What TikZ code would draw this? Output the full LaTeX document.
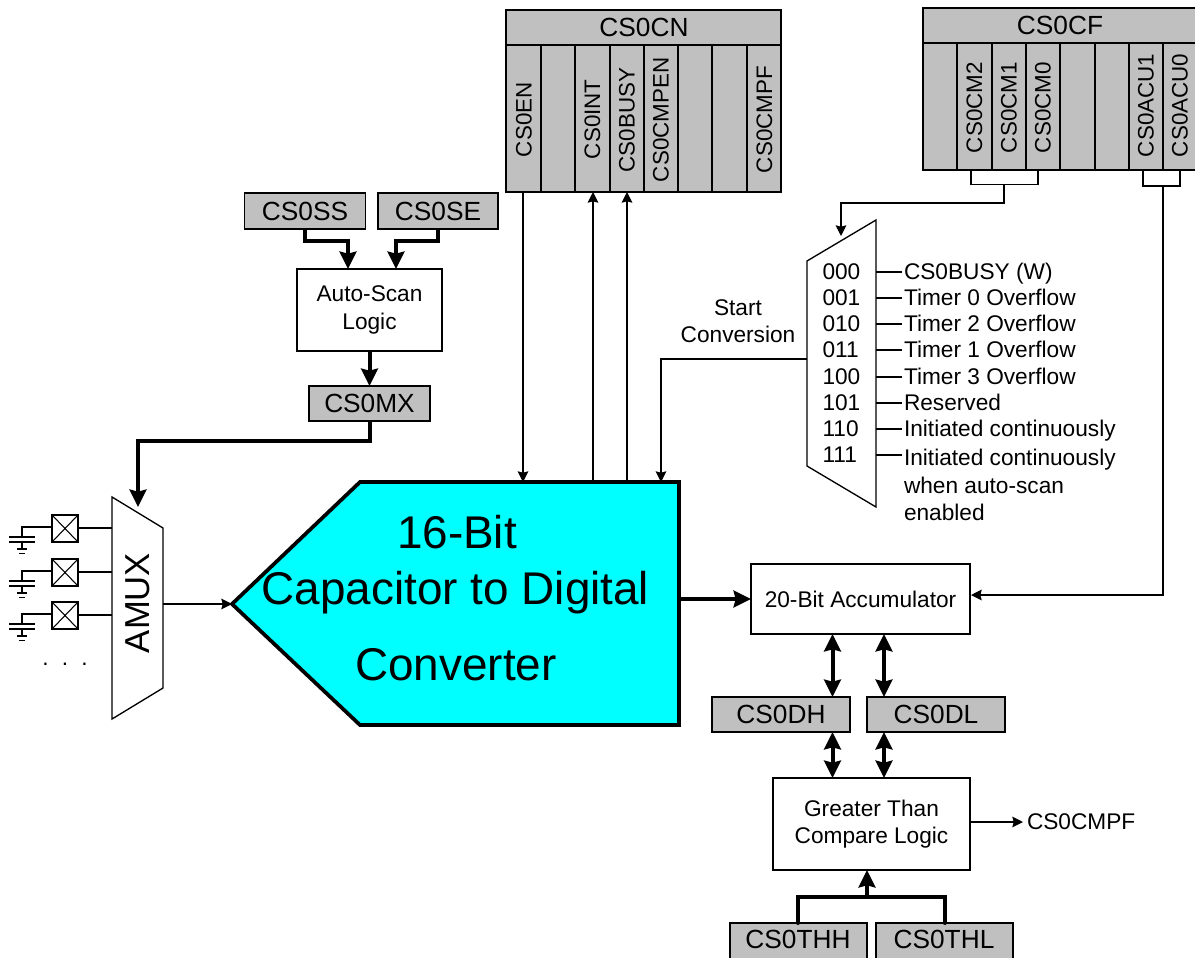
\documentclass[tikz,border=0pt]{standalone}
\usepackage{fontspec}
\setmainfont{Liberation Sans}
\usetikzlibrary{arrows.meta}
\definecolor{regfill}{RGB}{192,192,192}
\definecolor{convfill}{RGB}{0,255,255}
\tikzset{
 x=0.75pt,y=-0.75pt,
 every node/.style={inner sep=0,outer sep=0,text=black},
 reg/.style={draw=black,line width=1.1pt,fill=regfill,font=\fontsize{19.7}{22}\selectfont},
 colline/.style={draw=black,line width=1pt},
 wbox/.style={draw=black,line width=1pt,fill=white,font=\fontsize{17}{20.6}\selectfont,align=center},
 vtxt/.style={font=\fontsize{16.8}{20}\selectfont,rotate=90,anchor=west},
 lbl/.style={font=\fontsize{17}{20.6}\selectfont,align=center},
 thin1/.style={draw=black,line width=1pt},
 arr/.style={thin1,-{Stealth[length=8pt,width=8pt,inset=1pt]}},
 thick1/.style={draw=black,line width=3pt},
 tarr/.style={thick1,-{Stealth[length=13pt,width=12.5pt,inset=1.5pt]}},
 tdarr/.style={thick1,{Stealth[length=13pt,width=12.5pt,inset=1.5pt]}-{Stealth[length=13pt,width=12.5pt,inset=1.5pt]}},
 frame/.style={draw=black,line width=1pt,fill=white},
 bigtxt/.style={font=\fontsize{34.4}{40}\selectfont,anchor=base}
}
\begin{document}
\begin{tikzpicture}
\useasboundingbox (0,0) rectangle (1195,957);
% CS0CN
\node[reg,minimum width=275*0.75pt,minimum height=182*0.75pt] (cnbody) at (643.5,101) {};
\draw[line width=1.1pt] (506,45) -- (781,45);
\foreach \x in {541,575,610,644,678,712,747} \draw[colline] (\x,45) -- (\x,192);
\node[font=\fontsize{19.7}{22}\selectfont] (cn) at (644,27) {CS0CN};
\node[vtxt] (en) at (524,157) {CS0EN};
\node[vtxt] (int) at (592.5,159) {CS0INT};
\node[vtxt] (busy) at (627,172.5) {CS0BUSY};
\node[vtxt] (cmpen) at (661,182) {CS0CMPEN};
\node[vtxt] (cmpf) at (764.5,173) {CS0CMPF};
% CS0CF
\node[reg,minimum width=280*0.75pt,minimum height=162*0.75pt] (cfbody) at (1063,89) {};
\draw[line width=1.1pt] (923,43) -- (1203,43);
\foreach \x in {957,992,1026,1060,1095,1129,1163} \draw[colline] (\x,43) -- (\x,170);
\node[font=\fontsize{19.7}{22}\selectfont] (cf) at (1060,25) {CS0CF};
\node[vtxt] (cm2) at (974.5,153) {CS0CM2};
\node[vtxt] (cm1) at (1009,153) {CS0CM1};
\node[vtxt] (cm0) at (1043,153) {CS0CM0};
\node[vtxt] (acu1) at (1146,157) {CS0ACU1};
\node[vtxt] (acu0) at (1180,157) {CS0ACU0};
% mode bracket
\coordinate (cmmid) at (1004,184.5);
\coordinate (acumid) at (1163,186);
\draw[thin1] (971,0 |- cfbody.south) -- (971,184.5) -- (1038,184.5) -- (1038,0 |- cfbody.south);
\draw[thin1] (1143,0 |- cfbody.south) -- (1143,186) -- (1180,186) -- (1180,0 |- cfbody.south);
% auto scan
\node[reg,minimum width=121*0.75pt,minimum height=36*0.75pt] (ss) at (305,211) {CS0SS};
\node[reg,minimum width=120*0.75pt,minimum height=36*0.75pt] (se) at (438,211) {CS0SE};
\node[wbox,minimum width=145*0.75pt,minimum height=82*0.75pt] (scan) at (369.5,310) {Auto-Scan\\Logic};
\node[reg,minimum width=121*0.75pt,minimum height=35*0.75pt] (mx) at (369.5,403.5) {CS0MX};
\draw[tarr] (305,0 |- ss.south) -- (305,241) -- (348,241) -- (348,0 |- scan.north);
\draw[tarr] (438,0 |- se.south) -- (438,241) -- (396,241) -- (396,0 |- scan.north);
\draw[tarr] (scan.south) -- (mx.north);
% AMUX
\path[frame] (112,497) -- (163,528) -- (163,688) -- (112,719) -- cycle;
\coordinate (amuxin) at (138,507);
\coordinate (amuxout) at (163,604);
\draw[tarr] (mx.south) -- (369.5,441) -- (138,441) -- (amuxin);
\node[font=\fontsize{26}{30}\selectfont,rotate=90] (amux) at (138,603) {AMUX};
\foreach \dy in {0,44,87}{
 \begin{scope}[yshift=-0.75pt*\dy]
 \draw[line width=1.2pt] (52,515) rectangle (78,542);
 \draw[line width=0.8pt] (52,515) -- (78,542) (52,542) -- (78,515);
 \draw[thin1] (78,528) -- (112,528);
 \draw[thin1] (52,527) -- (22,527) -- (22,537);
 \draw[thin1] (9,537) -- (35,537) (9,542) -- (35,542);
 \draw[thin1] (22,542) -- (22,549) (17,549) -- (27,549);
 \draw[thin1] (19,553.5) -- (25,553.5);
 \end{scope}
}
\node[font=\fontsize{17}{20}\selectfont,anchor=base] (dots) at (65,665) {.\hspace{9.9pt}.\hspace{9.9pt}.};
% converter
\path[draw=black,line width=2.8pt,fill=convfill] (232,604) coordinate (convtip) -- (360,482) -- (679,482) coordinate (convtop) -- (679,725) -- (360,725) -- cycle;
\node[bigtxt] (c1) at (457,548) {16-Bit};
\node[bigtxt] (c2) at (455.5,604) {Capacitor to Digital};
\node[bigtxt] (c3) at (456,680) {Converter};
\draw[arr] (amuxout) -- (convtip);
\draw[arr] (523,0 |- cnbody.south) -- (523,0 |- convtop);
\draw[arr] (593,0 |- convtop) -- (593,0 |- cnbody.south);
\draw[arr] (627,0 |- convtop) -- (627,0 |- cnbody.south);
\node[lbl] (start) at (738,321) {Start\\Conversion};
% mux
\path[frame] (807,261) coordinate (muxtl) -- (876,220) -- (876,507) -- (807,466) coordinate (muxbl) -- cycle;
\coordinate (muxin) at (841,236);
\coordinate (muxout) at (807,359);
\draw[arr] (cmmid) -- (1004,203) -- (841,203) -- (muxin);
\draw[arr] (muxout) -- (661,359) -- (661,0 |- convtop);
\foreach \y/\by/\ty/\b/\t in {272/279/279/000/CS0BUSY (W),298/305/305/001/Timer 0 Overflow,324/331.5/331.5/010/Timer 2 Overflow,350/357.5/357.5/011/Timer 1 Overflow,377/384/384/100/Timer 3 Overflow,403/410/410/101/Reserved,429/436/436/110/Initiated continuously,455/462.5/465.5/111/Initiated continuously}{
 \node[font=\fontsize{17}{20}\selectfont,anchor=base west] at (822.5,\by) {\b};
 \draw[thin1] (876,\y) -- (902,\y);
 \node[font=\fontsize{17}{20}\selectfont,anchor=base west] at (904,\ty) {\t};
}
\node[font=\fontsize{17}{20}\selectfont,anchor=base west] at (904,493) {when auto-scan};
\node[font=\fontsize{17}{20}\selectfont,anchor=base west] at (904,520.5) {enabled};
% accumulator
\node[wbox,minimum width=219*0.75pt,minimum height=70*0.75pt] (acc) at (860.5,599) {20-Bit Accumulator};
\draw[tarr] (convtop |- acc.west) -- (acc.west);
\draw[arr] (acumid) -- (1163,595) -- (971,595);
\node[reg,minimum width=138*0.75pt,minimum height=35*0.75pt] (dh) at (781,714.5) {CS0DH};
\node[reg,minimum width=138*0.75pt,minimum height=35*0.75pt] (dl) at (936,714.5) {CS0DL};
\node[wbox,minimum width=197*0.75pt,minimum height=92*0.75pt] (gt) at (871.5,824) {Greater Than\\Compare Logic};
\draw[tdarr] (832.5,0 |- acc.south) -- (832.5,0 |- dh.north);
\draw[tdarr] (884,0 |- acc.south) -- (884,0 |- dl.north);
\draw[tdarr] (832.5,0 |- dh.south) -- (832.5,0 |- gt.north);
\draw[tdarr] (884,0 |- dl.south) -- (884,0 |- gt.north);
\node[lbl,anchor=west] (cmpfo) at (1027,822) {CS0CMPF};
\draw[arr,shorten >=3pt] (gt.east |- cmpfo.west) -- (cmpfo.west);
\node[reg,minimum width=137*0.75pt,minimum height=42*0.75pt] (thhbox) at (798.5,944) {};
\node[reg,minimum width=137*0.75pt,minimum height=42*0.75pt] (thlbox) at (944.5,944) {};
\node[font=\fontsize{19.7}{22}\selectfont] (thh) at (798,939) {CS0THH};
\node[font=\fontsize{19.7}{22}\selectfont] (thl) at (944,939) {CS0THL};
\draw[thick1,line cap=round] (798,0 |- thhbox.north) -- (798,897) -- (944.5,897) -- (944.5,0 |- thlbox.north);
\draw[tarr] (867,897) -- (867,0 |- gt.south);
\end{tikzpicture}
\end{document}
